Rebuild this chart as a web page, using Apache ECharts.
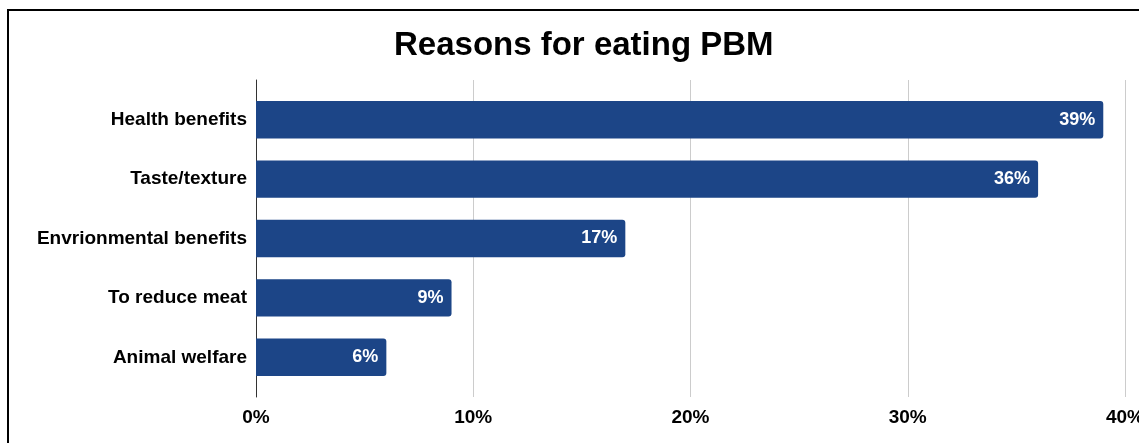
<!DOCTYPE html>
<html>
<head>
<meta charset="utf-8">
<script src="https://cdn.jsdelivr.net/npm/echarts@6/dist/echarts.min.js"></script>
<style>
  html, body { margin: 0; padding: 0; background: #fff; }
  #chart { width: 1139px; height: 443px; }
  #frame { position: absolute; left: 7px; top: 9px; width: 1200px; height: 500px;
    border-top: 2px solid #000; border-left: 2px solid #000; pointer-events: none; }
</style>
</head>
<body>
<div id="chart"></div>
<div id="frame"></div>
<script>
var categories = ["Health benefits", "Taste/texture", "Envrionmental benefits", "To reduce meat", "Animal welfare"];
var shares = [39, 36, 17, 9, 6];
var tickValues = [0, 10, 20, 30, 40];

var chart = echarts.init(document.getElementById("chart"));
var font = "Liberation Sans, Arial, sans-serif";

var option = {
  animation: false,
  title: {
    text: "Reasons for eating PBM",
    left: 389,
    top: 24,
    textStyle: { fontFamily: font, fontSize: 33, fontWeight: "bold", color: "#000" }
  },
  grid: [
    { left: 256, width: 869, top: 90, height: 297, outerBoundsMode: "none", containLabel: false },
    { left: 256, width: 869, top: 80, height: 317, outerBoundsMode: "none", containLabel: false }
  ],
  xAxis: [
    { gridIndex: 0, type: "value", min: 0, max: 40, interval: 10, show: false },
    {
      gridIndex: 1, type: "value", min: 0, max: 40, interval: 10,
      axisLine: { show: false }, axisTick: { show: false },
      splitLine: { lineStyle: { color: "#cccccc", width: 1 } },
      axisLabel: {
        margin: 11, color: "#000", fontFamily: font, fontSize: 19, fontWeight: "bold",
        formatter: function (v) { return tickValues.indexOf(v) >= 0 ? v + "%" : ""; }
      }
    }
  ],
  yAxis: [
    {
      gridIndex: 0, type: "category", data: categories, inverse: true,
      axisLine: { show: false }, axisTick: { show: false },
      axisLabel: { margin: 9, color: "#000", fontFamily: font, fontSize: 19, fontWeight: "bold" }
    },
    {
      gridIndex: 1, type: "value", min: 0, max: 1,
      axisLine: { show: true, lineStyle: { color: "#333", width: 1 } },
      axisTick: { show: false }, axisLabel: { show: false }, splitLine: { show: false }
    }
  ],
  series: [{
    type: "bar",
    xAxisIndex: 0,
    yAxisIndex: 0,
    data: shares,
    barWidth: "63%",
    itemStyle: { color: "#1c4587", borderRadius: [0, 3, 3, 0] },
    label: {
      show: true,
      position: "insideRight",
      distance: 8,
      color: "#fff",
      fontFamily: font,
      fontSize: 18,
      fontWeight: "bold",
      formatter: "{c}%"
    }
  }]
};

chart.setOption(option);
</script>
</body>
</html>
